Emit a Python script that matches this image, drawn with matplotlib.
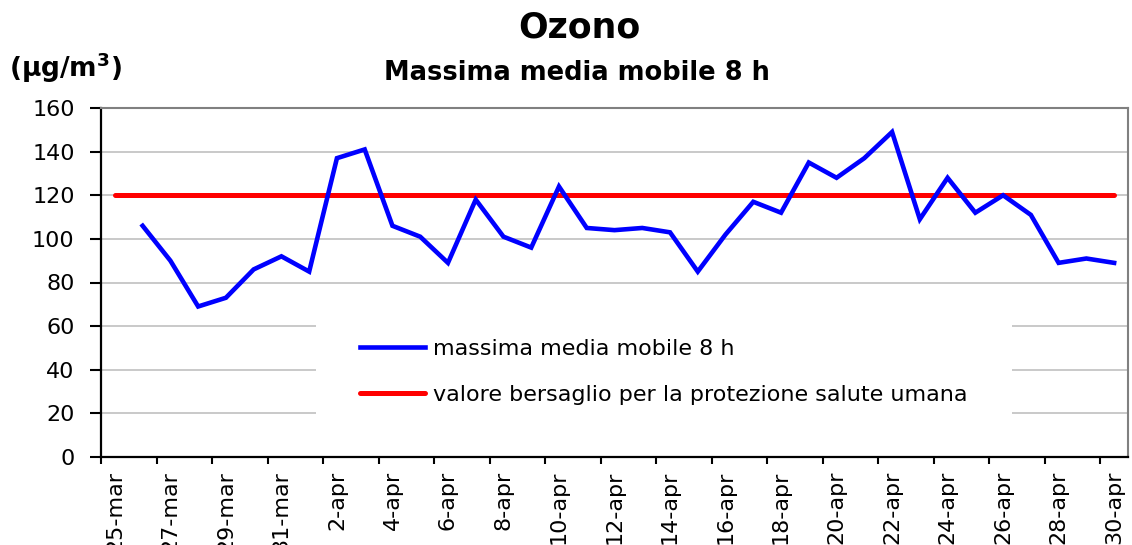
import numpy as np
import matplotlib
matplotlib.use("Agg")
import matplotlib.pyplot as plt
from matplotlib.patches import Rectangle

# giorni dal 25-mar al 30-apr
day_labels = (
    ["%d-mar" % d for d in range(25, 32)]
    + ["%d-apr" % d for d in range(1, 31)]
)
# massima media mobile 8 h, dal 26-mar al 30-apr
ozone_max8h = [
    106, 90, 69, 73, 86, 92, 85, 137, 141, 106, 101, 89, 118, 101, 96,
    124, 105, 104, 105, 103, 85, 102, 117, 112, 135, 128, 137, 149, 109,
    128, 112, 120, 111, 89, 91, 89,
]
target_value = 120
y_ticks = [0, 20, 40, 60, 80, 100, 120, 140, 160]

days = np.arange(len(day_labels))
ozone_days = days[len(day_labels) - len(ozone_max8h):]
target = [target_value] * len(day_labels)

dpi = 100
fig = plt.figure(figsize=(1132 / dpi, 545 / dpi), dpi=dpi)
ax = fig.add_axes([101 / 1132, 1 - 457 / 545, 1027 / 1132, 349 / 545])

ax.set_xlim(-0.5, len(day_labels) - 0.5)
ax.set_ylim(0, 160)

ax.set_yticks(y_ticks)
ax.yaxis.grid(True, color="#c0c0c0", linewidth=1.2, zorder=0)
ax.set_axisbelow(True)

# fondo bianco della legenda sopra la griglia
ax.add_patch(Rectangle((0.209, 0.057), 0.678, 0.342, transform=ax.transAxes,
                       facecolor="white", edgecolor="none", zorder=1))

ax.plot(ozone_days, ozone_max8h, color="#0000ff", linewidth=3.3,
        label="massima media mobile 8 h", zorder=3, solid_joinstyle="miter")
ax.plot(days, target, color="#ff0000", linewidth=3.6,
        label="valore bersaglio per la protezione salute umana", zorder=2,
        solid_capstyle="round")

# tacche tra le categorie, etichette al centro ogni 2 giorni
ax.set_xticks(days[::2] - 0.5)
ax.set_xticklabels([])
ax.set_xticks(days[::2], minor=True)
ax.set_xticklabels(day_labels[::2], minor=True, rotation=90, fontsize=16)
ax.tick_params(axis="x", which="major", direction="out", length=5, width=1.5)
ax.tick_params(axis="x", which="minor", length=0, pad=10)
ax.tick_params(axis="y", direction="out", length=8, width=1.5, pad=11,
               labelsize=16)

for side in ("left", "bottom"):
    ax.spines[side].set_color("black")
    ax.spines[side].set_linewidth(1.6)
for side in ("top", "right"):
    ax.spines[side].set_color("#808080")
    ax.spines[side].set_linewidth(1.5)

ax.legend(loc="upper left", bbox_to_anchor=(0.252, 0.338), frameon=False,
          fontsize=16, handlelength=2.95, handletextpad=0.35, labelspacing=1.15,
          borderpad=0, borderaxespad=0)

fig.text(0.512, 0.95, "Ozono", ha="center", va="center", fontsize=25,
         fontweight="bold")
fig.text(0.51, 0.866, "Massima media mobile 8 h", ha="center", va="center",
         fontsize=18.5, fontweight="bold")
fig.text(0.008, 0.875, "(\u00b5g/m$^{\\mathbf{3}}$)", ha="left", va="center",
         fontsize=19, fontweight="bold")

fig.savefig("out.png", dpi=dpi)
